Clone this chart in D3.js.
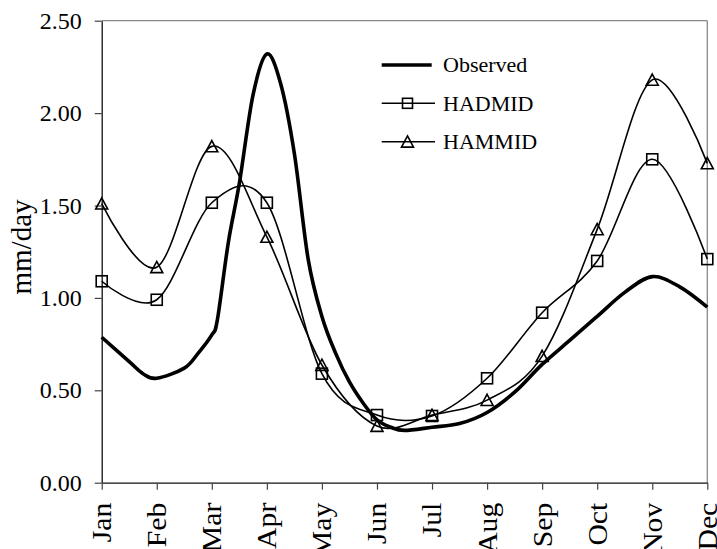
<!DOCTYPE html>
<html><head><meta charset="utf-8">
<script src="https://cdn.jsdelivr.net/npm/d3@7"></script>
<style>body{margin:0;background:#fff} svg{display:block}</style>
</head><body><svg id="c" width="717" height="549"></svg>
<script>
const months = ["Jan","Feb","Mar","Apr","May","Jun","Jul","Aug","Sep","Oct","Nov","Dec"];
const yTicks = [0, 0.5, 1.0, 1.5, 2.0, 2.5];
const hadmid = [1.09, 0.99, 1.515, 1.515, 0.59, 0.366, 0.361, 0.565, 0.92, 1.20, 1.75, 1.21];
const hammid = [1.51, 1.166, 1.82, 1.33, 0.637, 0.307, 0.366, 0.447, 0.685, 1.371, 2.18, 1.728];
// observed series read at finer positions (month index)
const observedT = [0, 0.5, 0.75, 1, 1.5, 1.75, 2, 2.1, 2.3, 2.5, 2.75, 3, 3.25, 3.5, 3.75, 4, 4.25, 4.5, 4.75, 5, 5.25, 5.5, 6, 6.5, 7, 7.5, 8, 8.5, 9, 9.5, 10, 10.5, 11];
const observedV = [0.787, 0.655, 0.59, 0.565, 0.62, 0.70, 0.80, 0.88, 1.30, 1.62, 2.10, 2.32, 2.16, 1.78, 1.21, 0.90, 0.70, 0.545, 0.43, 0.34, 0.30, 0.283, 0.30, 0.32, 0.38, 0.49, 0.64, 0.77, 0.90, 1.03, 1.115, 1.06, 0.95];
const legendLabels = ["Observed", "HADMID", "HAMMID"];

const svg = d3.select("#c");
const L = 101.7, R = 707.3, T = 20.7, B = 482.7;
const x = d3.scaleLinear().domain([0, 11]).range([L, R]);
const y = d3.scaleLinear().domain([0, 2.5]).range([B, T]);
const font = "'Liberation Serif','Times New Roman',serif";

// border (top/right gray)
svg.append("line").attr("x1", L).attr("x2", R).attr("y1", T).attr("y2", T).attr("stroke", "#888").attr("stroke-width", 1.3);
svg.append("line").attr("x1", R).attr("x2", R).attr("y1", T).attr("y2", B).attr("stroke", "#888").attr("stroke-width", 1.3);

// y axis
const ya = svg.append("g").attr("transform", `translate(${L},0)`)
  .call(d3.axisLeft(y).tickValues(yTicks).tickFormat(d3.format(".2f")).tickSize(7).tickSizeOuter(0).tickPadding(13));
ya.select(".domain").attr("stroke", "#111").attr("stroke-width", 1.3);
ya.selectAll(".tick line").attr("stroke", "#444").attr("stroke-width", 1.2);
ya.selectAll("text").attr("font-family", font).attr("font-size", 24).attr("fill", "#000");

// x axis
const sx = 1.1;
const xa = svg.append("g").attr("transform", `translate(0,${B})`)
  .call(d3.axisBottom(x).tickValues(d3.range(months.length)).tickFormat(i => months[i]).tickSize(7).tickSizeOuter(0));
xa.select(".domain").attr("stroke", "#111").attr("stroke-width", 1.3);
xa.selectAll(".tick line").attr("stroke", "#444").attr("stroke-width", 1.2);
xa.selectAll("text").attr("font-family", font).attr("font-size", 27).attr("fill", "#000")
  .attr("transform", `rotate(-90) scale(${sx},1)`).attr("x", -20 / sx).attr("y", 0).attr("dy", "0.33em").style("text-anchor", "end");

// y label
svg.append("text").attr("transform", "translate(31,247) rotate(-90)")
  .attr("text-anchor", "middle").attr("font-family", font).attr("font-size", 29).text("mm/day");

const curve = d3.curveCardinal.tension(0);
const line = d3.line().curve(curve);

// model lines
svg.append("path").attr("d", line(hadmid.map((v, i) => [x(i), y(v)])))
  .attr("fill", "none").attr("stroke", "#000").attr("stroke-width", 1.6);
svg.append("path").attr("d", line(hammid.map((v, i) => [x(i), y(v)])))
  .attr("fill", "none").attr("stroke", "#000").attr("stroke-width", 1.6);
// observed
svg.append("path").attr("d", line(observedT.map((t, i) => [x(t), y(observedV[i])])))
  .attr("fill", "none").attr("stroke", "#000").attr("stroke-width", 3.6).attr("stroke-linejoin", "round");

const sq = 11;
const triPath = "M0,-5.8L6,5.4L-6,5.4Z";
svg.append("g").selectAll("rect").data(hadmid).join("rect")
  .attr("x", (d, i) => x(i) - sq / 2).attr("y", d => y(d) - sq / 2)
  .attr("width", sq).attr("height", sq).attr("fill", "none").attr("stroke", "#000").attr("stroke-width", 1.6);
svg.append("g").selectAll("path").data(hammid).join("path")
  .attr("transform", (d, i) => `translate(${x(i)},${y(d)})`).attr("d", triPath)
  .attr("fill", "none").attr("stroke", "#000").attr("stroke-width", 1.6);

// legend
const lg = svg.append("g");
const ly = [65, 103.3, 141.7];
legendLabels.forEach((lab, i) => {
  lg.append("line").attr("x1", 381.7).attr("x2", i === 0 ? 431.7 : 435).attr("y1", ly[i]).attr("y2", ly[i])
    .attr("stroke", "#000").attr("stroke-width", i === 0 ? 3.6 : 1.6);
  if (i === 1) lg.append("rect").attr("x", 407.5 - 5).attr("y", ly[i] - 5).attr("width", 10).attr("height", 10)
    .attr("fill", "none").attr("stroke", "#000").attr("stroke-width", 1.6);
  if (i === 2) lg.append("path").attr("transform", `translate(407.5,${ly[i]})`).attr("d", triPath)
    .attr("fill", "none").attr("stroke", "#000").attr("stroke-width", 1.6);
  lg.append("text").attr("x", 443).attr("y", ly[i]).attr("dy", "0.33em")
    .attr("font-family", font).attr("font-size", 22).text(lab);
});
</script></body></html>
